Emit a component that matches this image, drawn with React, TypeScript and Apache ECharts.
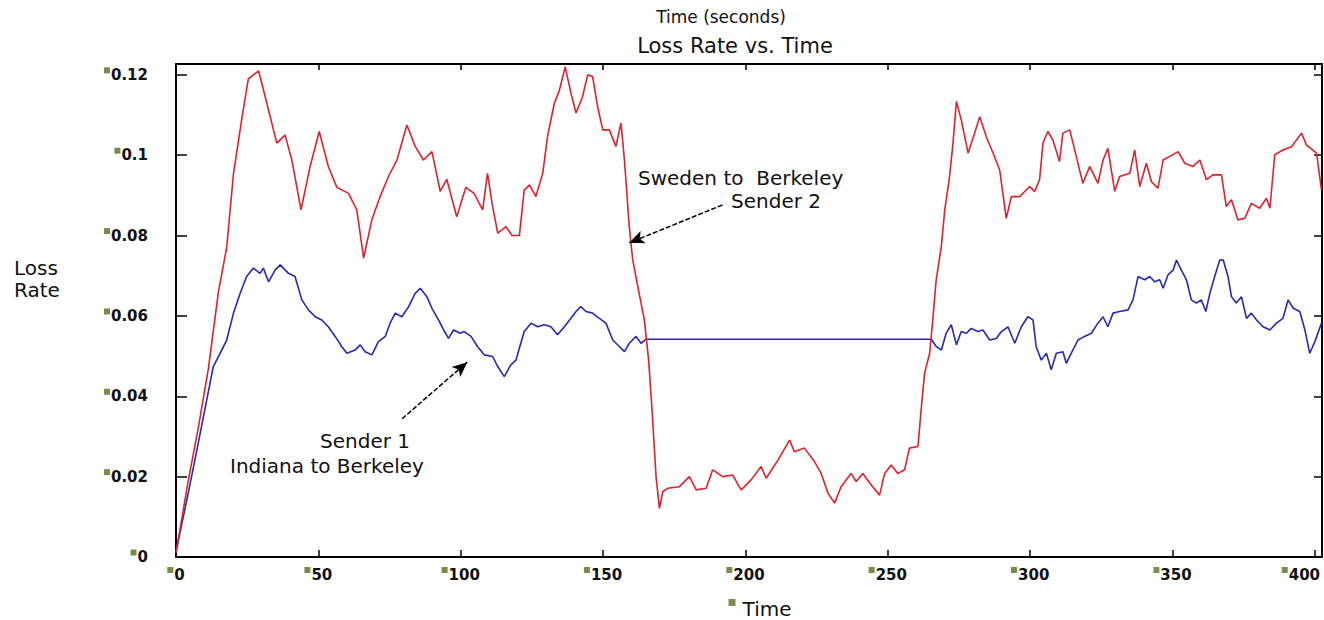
import React, { useEffect, useRef } from "react";
import * as echarts from "echarts";

// Sender 2 (Sweden to Berkeley): time in seconds and loss rate
const redTime = [
  0, 4.3, 7.8, 11.4, 14.9, 17.8, 20.2, 23.1, 25.4, 29, 31.3, 35.4, 38.3, 40.7, 43.9, 47.1, 50.3, 53.5, 56.5,
  60.6, 63.5, 65.9, 68.8, 71.7, 74.6, 77.6, 81.1, 84, 86.9, 89.9, 92.8, 95.1, 98.6, 101.8, 104.7, 107.7,
  109.4, 111.2, 113, 115.9, 118, 120.6, 122.3, 124.1, 126.4, 128.8, 130.5, 132.9, 134.6, 136.7, 138.7,
  140.5, 142.8, 144.6, 146.3, 148.1, 149.9, 152.2, 154.5, 156.3, 157.5, 159.2, 160.4, 162.2, 164.5, 166,
  167.2, 168.6, 169.8, 171, 172.7, 176.8, 180.3, 182.7, 186.2, 188.5, 192, 195.5, 198.5, 202, 205.5, 207.3,
  211.4, 215.5, 217.2, 220.7, 224.3, 226.6, 229, 231.3, 233.6, 237.1, 238.9, 241.2, 244.2, 247.1, 248.9,
  251.2, 253.5, 255.9, 257.6, 260.6, 261.7, 262.9, 264.7, 265.8, 267, 268.8, 270, 271.7, 272.9, 274.1,
  275.8, 278.2, 280.5, 282.3, 284.6, 287, 289.3, 291.6, 293.4, 296.3, 298.7, 299.8, 301.6, 303.3, 304.5,
  306.2, 308, 310.3, 311.5, 313.9, 316.2, 318.5, 320.9, 323.8, 325.6, 327.3, 329.7, 331.4, 335, 336.7,
  338.5, 340.8, 342.6, 344.9, 346.7, 349, 352, 354.3, 357.2, 359.6, 361.9, 364.2, 367.2, 368.9, 370.7,
  373, 375.4, 377.7, 380.6, 383, 384.2, 385.9, 388.8, 391.8, 395.3, 397, 400.6, 402.3,
];
const redLoss = [
  0.001, 0.019, 0.032, 0.047, 0.066, 0.077, 0.0955, 0.109, 0.119, 0.121, 0.1146, 0.103, 0.105, 0.0988,
  0.0864, 0.0972, 0.1059, 0.0972, 0.092, 0.0905, 0.0864, 0.0744, 0.084, 0.0897, 0.0947, 0.0988, 0.1075,
  0.1022, 0.0988, 0.1009, 0.091, 0.094, 0.0847, 0.092, 0.0905, 0.0864, 0.0955, 0.0872, 0.0806, 0.0822,
  0.08, 0.08, 0.0913, 0.0926, 0.0897, 0.0955, 0.1047, 0.113, 0.116, 0.122, 0.1155, 0.1105, 0.1146, 0.12,
  0.1196, 0.112, 0.1063, 0.1063, 0.1022, 0.108, 0.0988, 0.0822, 0.074, 0.0673, 0.059, 0.049, 0.0366, 0.02,
  0.0121, 0.0163, 0.0171, 0.0175, 0.02, 0.0167, 0.0171, 0.0217, 0.02, 0.0204, 0.0167, 0.0192, 0.0225,
  0.0196, 0.0241, 0.0291, 0.0262, 0.0271, 0.0237, 0.0208, 0.0159, 0.0134, 0.0175, 0.0208, 0.0188, 0.0208,
  0.0179, 0.0154, 0.0208, 0.0229, 0.0208, 0.0217, 0.0271, 0.0275, 0.0366, 0.0457, 0.0507, 0.059, 0.069,
  0.0773, 0.0864, 0.0947, 0.103, 0.1134, 0.1088, 0.1005, 0.1055, 0.1096, 0.1046, 0.1005, 0.0963, 0.0843,
  0.0897, 0.0897, 0.0914, 0.0922, 0.091, 0.0939, 0.103, 0.1059, 0.1038, 0.0984, 0.1055, 0.1063, 0.0997,
  0.093, 0.0972, 0.093, 0.0988, 0.1017, 0.091, 0.0947, 0.0955, 0.1013, 0.0922, 0.098, 0.0934, 0.0918,
  0.0988, 0.0997, 0.1009, 0.098, 0.0972, 0.0988, 0.0939, 0.0951, 0.0951, 0.0872, 0.0889, 0.0839, 0.0843,
  0.088, 0.0868, 0.0893, 0.0868, 0.1001, 0.1013, 0.1021, 0.1055, 0.1026, 0.1005, 0.0914,
];

// Sender 1 (Indiana to Berkeley): time in seconds and loss rate
const blueTime = [
  0, 4.3, 7.8, 10.8, 13.1, 15.5, 17.8, 20.2, 22.5, 24.8, 27.2, 29.5, 30.7, 32.5, 34.8, 36.6, 39.5, 41.8,
  44.2, 46.5, 48.9, 51.2, 53.5, 55.9, 58.2, 60, 62.9, 64.7, 66.4, 68.8, 71.1, 73.5, 75.2, 77, 79.3, 81.7,
  84, 85.8, 88.1, 89.9, 92.2, 94, 95.7, 97.5, 99.8, 101.2, 103.6, 105.9, 108.3, 111.2, 113, 115.3, 117.6,
  119.4, 121.1, 122.3, 124.7, 127, 129.3, 131.7, 134, 136.4, 138.7, 140.5, 142.2, 144, 146.3, 148.7, 151,
  153.4, 155.7, 157.5, 159.2, 161.6, 163.3, 165.1, 265.3, 267, 268.8, 270.5, 272.3, 274.1, 275.8, 277.6,
  279.3, 281.7, 283.4, 285.8, 288.1, 289.9, 292.2, 294.6, 296.9, 299.2, 301, 302.1, 303.9, 305.7, 307.4,
  309.2, 311.5, 312.7, 314.4, 316.8, 319.1, 321.5, 323.8, 325.6, 327.3, 329.1, 331.4, 334.4, 336.1, 337.9,
  340.2, 342, 343.7, 345.5, 346.7, 348.4, 350.2, 351.4, 353.1, 354.9, 356.6, 358.4, 360.1, 361.7, 363.1,
  364.8, 366.6, 367.8, 369.5, 370.7, 372.4, 374.2, 376, 377.7, 379.5, 381.8, 384.2, 386.5, 388.8, 390.6,
  392.4, 394.7, 396.5, 398.2, 400, 402.3,
];
const blueLoss = [
  0.0013, 0.0159, 0.0283, 0.0391, 0.0474, 0.0507, 0.054, 0.0607, 0.0656, 0.0698, 0.0719, 0.0706, 0.0719,
  0.0685, 0.0714, 0.0727, 0.0706, 0.0698, 0.064, 0.0615, 0.0598, 0.059, 0.0573, 0.0549, 0.0524, 0.0507,
  0.0515, 0.0528, 0.0511, 0.0503, 0.0536, 0.0549, 0.0582, 0.0607, 0.0598, 0.0623, 0.0656, 0.0669, 0.0648,
  0.0619, 0.059, 0.0565, 0.0544, 0.0565, 0.0557, 0.0561, 0.0549, 0.0524, 0.0503, 0.0499, 0.0474, 0.0449,
  0.0478, 0.049, 0.0532, 0.0561, 0.0582, 0.0573, 0.0578, 0.0573, 0.0553, 0.0573, 0.0594, 0.0611, 0.0623,
  0.0611, 0.0607, 0.0594, 0.0582, 0.054, 0.0524, 0.0511, 0.0532, 0.0549, 0.0532, 0.0542, 0.0542, 0.0524,
  0.0515, 0.0557, 0.0578, 0.0528, 0.0561, 0.0557, 0.0569, 0.0561, 0.0565, 0.054, 0.0544, 0.0561, 0.0573,
  0.0532, 0.0573, 0.0598, 0.059, 0.0524, 0.049, 0.0507, 0.0466, 0.0507, 0.0511, 0.0482, 0.0507, 0.054,
  0.0549, 0.0557, 0.0582, 0.0598, 0.0573, 0.0607, 0.0611, 0.0615, 0.064, 0.0698, 0.069, 0.0698, 0.0685,
  0.069, 0.0669, 0.0702, 0.0714, 0.0739, 0.0714, 0.069, 0.064, 0.0632, 0.064, 0.0611, 0.0656, 0.0698,
  0.0739, 0.0739, 0.0698, 0.0648, 0.0632, 0.0648, 0.0594, 0.0607, 0.059, 0.0573, 0.0565, 0.0582, 0.0594,
  0.064, 0.0619, 0.0611, 0.0565, 0.0507, 0.0536, 0.0582,
];

// Axis ticks and their printed labels
const xTicks = [0, 50, 100, 150, 200, 250, 300, 350, 400];
const xTickLabels = ["0", "50", "100", "150", "200", "250", "300", "350", "400"];
const yTicks = [0, 0.02, 0.04, 0.06, 0.08, 0.1, 0.12];
const yTickLabels = ["0", "0.02", "0.04", "0.06", "0.08", "0.1", "0.12"];

// Annotation arrows: [tail time, tail loss, head time, head loss]
const sender2Arrow = [191.9, 0.0876, 159.2, 0.0782];
const sender1Arrow = [79.4, 0.0344, 102.3, 0.0485];

const FONT = "'DejaVu Sans', 'Liberation Sans', sans-serif";
const MARK = "#7b8b4b";

// Each tick label is a small olive square followed by the number; the last
// x label gets a trailing spacer so it stays inside the right edge.
const tickLabel = (ticks: number[], labels: string[], padLast = false) => (v: number) => {
  const i = ticks.findIndex((t) => Math.abs(t - v) < 1e-6);
  if (i < 0) return "";
  const tail = padLast && i === ticks.length - 1 ? "{g|}" : "";
  return `{m|}{v|${labels[i]}}${tail}`;
};

const labelRich = {
  m: { width: 6, height: 6, backgroundColor: MARK, verticalAlign: "top" as const },
  v: { fontFamily: FONT, fontSize: 15, fontWeight: "bold" as const, color: "#111", padding: [0, 0, 0, 1] },
  g: { width: 28, height: 6 },
};

export default function App() {
  const ref = useRef<HTMLDivElement>(null);

  useEffect(() => {
    if (!ref.current) return;
    const chart = echarts.init(ref.current, undefined, { renderer: "svg" });

    const axisLine = { show: true, onZero: false, lineStyle: { color: "#000", width: 2 } };
    const arrowLine = (a: number[]) => [{ coord: [a[0], a[1]] }, { coord: [a[2], a[3]] }];

    chart.setOption({
      animation: false,
      backgroundColor: "#fff",
      grid: { left: 176, right: 2, top: 64, bottom: 63, containLabel: false, outerBoundsMode: "none" },
      xAxis: [
        {
          type: "value",
          position: "bottom",
          min: 0,
          max: 402.5,
          interval: 50,
          axisLine,
          axisTick: { show: true, inside: true, length: 7, lineStyle: { color: "#000", width: 1.5 } },
          splitLine: { show: false },
          axisLabel: {
            margin: 10,
            formatter: tickLabel(xTicks, xTickLabels, true),
            rich: labelRich,
          },
          name: "{m|}{v|Time}",
          nameLocation: "middle",
          nameGap: 42,
          nameTextStyle: {
            padding: [0, 0, 0, 22],
            rich: {
              m: { width: 7, height: 7, backgroundColor: MARK, verticalAlign: "top" as const },
              v: { fontFamily: FONT, fontSize: 20, color: "#111", padding: [0, 0, 0, 7] },
            },
          },
        },
        {
          type: "value",
          position: "top",
          min: 0,
          max: 402.5,
          interval: 50,
          axisLine,
          axisTick: { show: true, inside: true, length: 6, lineStyle: { color: "#000", width: 1.5 } },
          axisLabel: { show: false },
          splitLine: { show: false },
        },
      ],
      yAxis: [
        {
          type: "value",
          position: "left",
          min: 0,
          max: 0.1227,
          interval: 0.02,
          axisLine,
          axisTick: { show: true, inside: true, length: 11, lineStyle: { color: "#000", width: 1.5 } },
          splitLine: { show: false },
          axisLabel: {
            margin: 28,
            formatter: tickLabel(yTicks, yTickLabels),
            rich: labelRich,
          },
        },
        {
          type: "value",
          position: "right",
          min: 0,
          max: 0.1227,
          interval: 0.02,
          axisLine,
          axisTick: { show: true, inside: true, length: 8, lineStyle: { color: "#000", width: 1.5 } },
          axisLabel: { show: false },
          splitLine: { show: false },
        },
      ],
      series: [
        {
          name: "Sweden to Berkeley (Sender 2)",
          type: "line",
          showSymbol: false,
          data: redTime.map((t, i) => [t, redLoss[i]]),
          lineStyle: { color: "#e0202c", width: 1.6 },
          itemStyle: { color: "#e0202c" },
          z: 3,
          markLine: {
            silent: true,
            symbol: ["none", "arrow"],
            symbolSize: [10, 15],
            label: { show: false },
            lineStyle: { color: "#000", width: 1.5, type: [5, 2] },
            data: [arrowLine(sender2Arrow)],
          },
        },
        {
          name: "Indiana to Berkeley (Sender 1)",
          type: "line",
          showSymbol: false,
          data: blueTime.map((t, i) => [t, blueLoss[i]]),
          lineStyle: { color: "#2828b0", width: 1.6 },
          itemStyle: { color: "#2828b0" },
          z: 2,
          markLine: {
            silent: true,
            symbol: ["none", "arrow"],
            symbolSize: [10, 15],
            label: { show: false },
            lineStyle: { color: "#000", width: 1.5, type: [5, 2] },
            data: [arrowLine(sender1Arrow)],
          },
        },
      ],
      graphic: [
        {
          type: "text",
          x: 721,
          y: 17,
          style: { text: "Time (seconds)", font: `17px ${FONT}`, fill: "#111", align: "center", verticalAlign: "middle" },
        },
        {
          type: "text",
          x: 735,
          y: 46,
          style: { text: "Loss Rate vs. Time", font: `21px ${FONT}`, fill: "#111", align: "center", verticalAlign: "middle" },
        },
        {
          type: "text",
          x: 14,
          y: 279,
          style: { text: "Loss\nRate", font: `20px ${FONT}`, lineHeight: 22, fill: "#111", align: "left", verticalAlign: "middle" },
        },
        {
          type: "text",
          x: 638,
          y: 178,
          style: { text: "Sweden to  Berkeley", font: `20px ${FONT}`, fill: "#111", align: "left", verticalAlign: "middle" },
        },
        {
          type: "text",
          x: 821,
          y: 201,
          style: { text: "Sender 2", font: `20px ${FONT}`, fill: "#111", align: "right", verticalAlign: "middle" },
        },
        {
          type: "text",
          x: 365,
          y: 441,
          style: { text: "Sender 1", font: `20px ${FONT}`, fill: "#111", align: "center", verticalAlign: "middle" },
        },
        {
          type: "text",
          x: 327,
          y: 466,
          style: { text: "Indiana to Berkeley", font: `20px ${FONT}`, fill: "#111", align: "center", verticalAlign: "middle" },
        },
      ],
    });

    return () => chart.dispose();
  }, []);

  return (
    <div
      ref={ref}
      style={{ position: "fixed", left: 0, top: 0, width: 1324, height: 620, background: "#fff" }}
    />
  );
}
